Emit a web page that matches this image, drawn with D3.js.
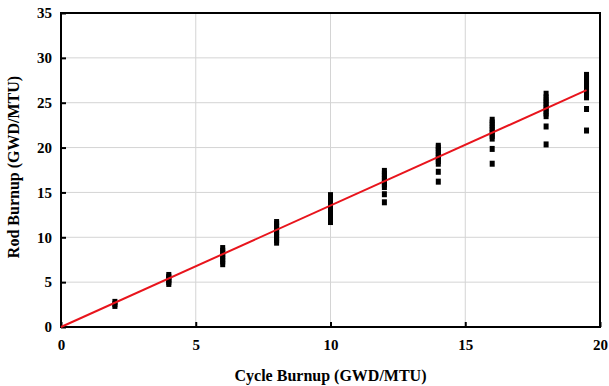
<!DOCTYPE html>
<html>
<head>
<meta charset="utf-8">
<script src="https://cdn.jsdelivr.net/npm/d3@7"></script>
<style>
  html, body { margin: 0; padding: 0; background: #fff; }
  svg text { font-family: "Liberation Serif", "Times New Roman", serif; font-weight: bold; fill: #000; }
</style>
</head>
<body>
<svg id="chart" width="609" height="386"></svg>
<script>
// cycle burnup positions (GWD/MTU)
const cycleBurnup = [2, 4, 6, 8, 10, 12, 14, 16, 18, 19.5];

// rod burnup samples at each cycle burnup (GWD/MTU)
const rodBurnup = [
  [2.35, 2.55, 2.8],
  [4.8, 5.0, 5.2, 5.4, 5.6, 5.8],
  [7.0, 7.3, 7.6, 7.9, 8.2, 8.5, 8.8],
  [9.4, 9.7, 10.0, 10.3, 10.6, 10.9, 11.2, 11.5, 11.7],
  [11.7, 12.0, 12.3, 12.6, 12.9, 13.2, 13.5, 13.8, 14.1, 14.4, 14.7],
  [13.9, 14.8, 15.6, 15.9, 16.2, 16.5, 16.8, 17.1, 17.4],
  [16.2, 17.3, 18.2, 18.5, 18.8, 19.1, 19.4, 19.7, 20.0, 20.2],
  [18.2, 19.85, 21.0, 21.3, 21.6, 21.9, 22.2, 22.5, 22.8, 23.1],
  [20.35, 22.35, 23.5, 23.8, 24.1, 24.4, 24.7, 25.0, 25.3, 25.6, 26.0],
  [21.9, 24.3, 25.6, 25.9, 26.2, 26.5, 26.8, 27.1, 27.4, 27.7, 28.1]
];

// linear fit end points
const fitX = [0, 19.5];
const fitY = [0, 26.4];

const xTicks = [0, 5, 10, 15, 20];
const yTicks = [0, 5, 10, 15, 20, 25, 30, 35];

const xTitle = 'Cycle Burnup (GWD/MTU)';
const yTitle = 'Rod Burnup (GWD/MTU)';

const svg = d3.select('#chart');
const margin = { top: 13, right: 9, bottom: 59, left: 61 };
const width = 609 - margin.left - margin.right;
const height = 386 - margin.top - margin.bottom;

const g = svg.append('g').attr('transform', `translate(${margin.left},${margin.top})`);

const x = d3.scaleLinear().domain([0, 20]).range([0, width]);
const y = d3.scaleLinear().domain([0, 35]).range([height, 0]);

// grid
g.append('g')
  .selectAll('line.gx')
  .data(xTicks.slice(1, -1))
  .join('line')
  .attr('x1', d => x(d)).attr('x2', d => x(d))
  .attr('y1', 0).attr('y2', height)
  .attr('stroke', '#d4d4d4').attr('stroke-width', 1);

g.append('g')
  .selectAll('line.gy')
  .data(yTicks.slice(1, -1))
  .join('line')
  .attr('x1', 0).attr('x2', width)
  .attr('y1', d => y(d)).attr('y2', d => y(d))
  .attr('stroke', '#d4d4d4').attr('stroke-width', 1);

// axes (inward ticks)
const xAxis = g.append('g')
  .attr('transform', `translate(0,${height})`)
  .call(d3.axisBottom(x).tickValues(xTicks).tickSizeInner(-5).tickSizeOuter(0).tickPadding(12));
const yAxis = g.append('g')
  .call(d3.axisLeft(y).tickValues(yTicks).tickSizeInner(-5).tickSizeOuter(0).tickPadding(9));

[xAxis, yAxis].forEach(ax => {
  ax.select('.domain').remove();
  ax.selectAll('.tick line').attr('stroke', '#000').attr('stroke-width', 2);
  ax.selectAll('.tick text')
    .style('font-family', '"Liberation Serif", serif')
    .style('font-weight', 'bold')
    .style('font-size', '15px');
});

// frame
g.append('rect')
  .attr('x', 0).attr('y', 0)
  .attr('width', width).attr('height', height)
  .attr('fill', 'none').attr('stroke', '#000').attr('stroke-width', 2);

// data markers
const points = [];
cycleBurnup.forEach((cx, i) => rodBurnup[i].forEach(v => points.push({ cx, v })));

g.append('g')
  .selectAll('rect')
  .data(points)
  .join('rect')
  .attr('x', d => x(d.cx) - 2.5)
  .attr('y', d => y(d.v) - 3)
  .attr('width', 5)
  .attr('height', 6)
  .attr('fill', '#000');

// fit line
const line = d3.line().x(d => x(d[0])).y(d => y(d[1]));
g.append('path')
  .datum(fitX.map((v, i) => [v, fitY[i]]))
  .attr('d', line)
  .attr('fill', 'none')
  .attr('stroke', '#e8141c')
  .attr('stroke-width', 2);

// titles
svg.append('text')
  .attr('x', margin.left + width / 2)
  .attr('y', 381)
  .attr('text-anchor', 'middle')
  .style('font-size', '16px')
  .text(xTitle);

svg.append('text')
  .attr('transform', `translate(19,${margin.top + height / 2 - 3}) rotate(-90)`)
  .attr('text-anchor', 'middle')
  .style('font-size', '16px')
  .text(yTitle);
</script>
</body>
</html>
